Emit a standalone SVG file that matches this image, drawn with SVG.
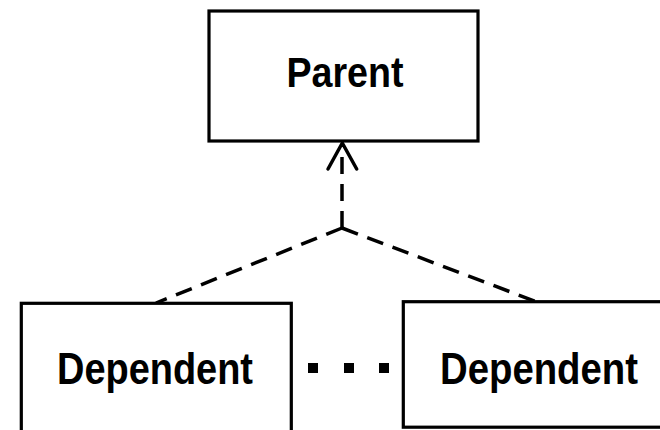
<svg xmlns="http://www.w3.org/2000/svg" width="660" height="430" viewBox="0 0 660 430">
  <style>
    .box { fill: #ffffff; stroke: #000000; stroke-width: 3.2; }
    .label { font-family: "Liberation Sans", Arial, sans-serif; font-weight: bold; fill: #000000; text-anchor: middle; }
    .dash { fill: none; stroke: #000000; stroke-width: 3.5; stroke-dasharray: 17 10; }
    .head { fill: none; stroke: #000000; stroke-width: 3.5; stroke-linecap: round; stroke-linejoin: round; }
  </style>
  <rect width="660" height="430" fill="#ffffff"/>

  <!-- dependency connectors: two branches meeting at a junction, one arrow up to the parent -->
  <g id="connectors">
    <path class="dash" d="M342 228 L156 303"/>
    <path class="dash" d="M342 228 L537 302"/>
    <path class="dash" d="M342 228 L342 145"/>
    <path class="head" d="M328 169 L342.3 143 L356.7 169"/>
    <!-- ellipsis between the dependents -->
    <g fill="#000000">
      <rect x="308" y="363" width="10" height="10"/>
      <rect x="344" y="363" width="10" height="10"/>
      <rect x="379" y="363" width="10" height="10"/>
    </g>
  </g>

  <g id="parent">
    <rect class="box" x="209" y="11" width="269" height="130"/>
    <text class="label" x="345" y="87" font-size="42" textLength="117" lengthAdjust="spacingAndGlyphs">Parent</text>
  </g>

  <g id="dependent-left">
    <rect class="box" x="21.3" y="303.3" width="270" height="130"/>
    <text class="label" x="155" y="383.5" font-size="44" textLength="196" lengthAdjust="spacingAndGlyphs">Dependent</text>
  </g>

  <g id="dependent-right">
    <rect class="box" x="403.3" y="301.7" width="272" height="125.5"/>
    <text class="label" x="539" y="383.5" font-size="44" textLength="198" lengthAdjust="spacingAndGlyphs">Dependent</text>
  </g>
</svg>
